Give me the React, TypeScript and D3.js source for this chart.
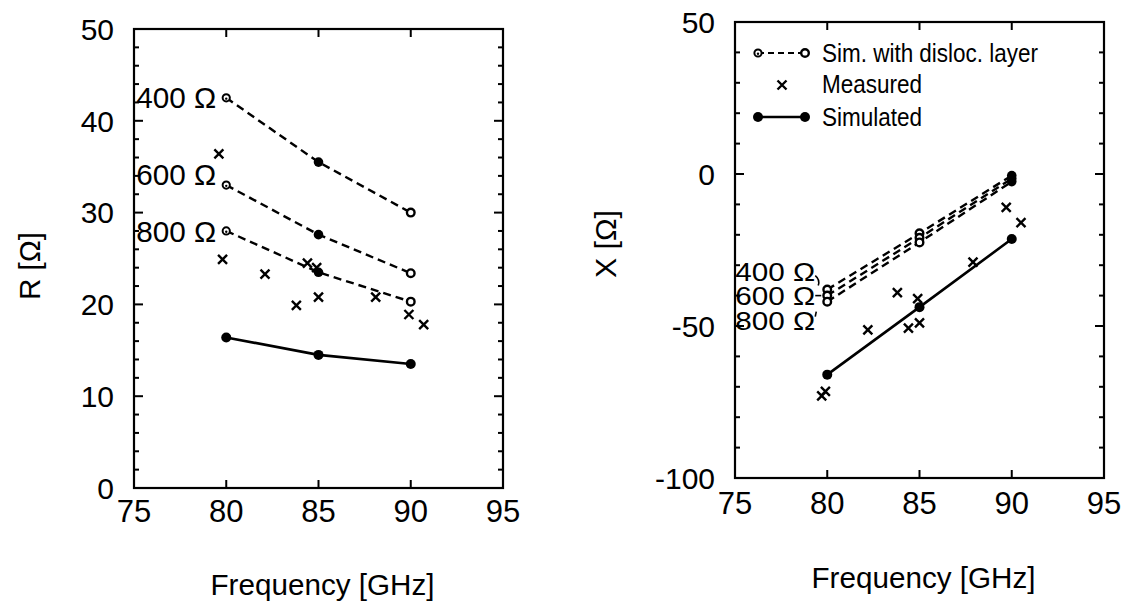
import React from 'react';
import * as d3 from 'd3';

// ---------- data ----------
const freqDomain = [75, 95];
const freqTicks = [75, 80, 85, 90, 95];
const freqSim = [80, 85, 90];
const simLabels = ['400 Ω', '600 Ω', '800 Ω'];

// Resistance (left panel)
const rDomain = [0, 50];
const rTicks = [0, 10, 20, 30, 40, 50];
const rSim400 = [42.5, 35.5, 30.0];
const rSim600 = [33.0, 27.6, 23.4];
const rSim800 = [28.0, 23.5, 20.3];
const rSimulated = [16.4, 14.5, 13.5];
const rMeasFreq = [79.6, 79.8, 82.1, 83.8, 84.4, 84.9, 85.0, 88.1, 89.9, 90.7];
const rMeasVal = [36.4, 24.9, 23.3, 19.9, 24.5, 24.0, 20.8, 20.8, 18.9, 17.8];

// Reactance (right panel)
const xDomain = [-100, 50];
const xTicks = [-100, -50, 0, 50];
const xSim400 = [-38, -19.5, -0.5];
const xSim600 = [-40, -21, -1.5];
const xSim800 = [-42, -22.5, -2.5];
const xSimulated = [-66, -43.8, -21.4];
const xMeasFreq = [79.7, 79.9, 82.2, 83.8, 84.4, 84.9, 85.0, 87.9, 89.7, 90.5];
const xMeasVal = [-73, -71.5, -51.3, -39, -50.7, -41, -49, -29, -11, -16];

const legendLabels = ['Sim. with disloc. layer', 'Measured', 'Simulated'];

const FONT = '"Liberation Sans", Arial, Helvetica, sans-serif';

type PanelProps = {
  left: number; right: number; top: number; bottom: number;
  yDomain: number[]; yTicks: number[]; yMinorStep: number;
  sims: number[][]; simulated: number[];
  measF: number[]; measV: number[];
  labelDx: number; labelDy: number[]; labelSize: number;
  markerStyles: string[];
  yTitle: string; yTitleX: number; yTitleY: number;
  xTitleY: number; xTickDy: number;
  leaders?: boolean;
  legend?: boolean;
};

function Cross({ x, y }: { x: number; y: number }) {
  const s = 4.5;
  return (
    <path d={`M${x - s},${y - s}L${x + s},${y + s}M${x - s},${y + s}L${x + s},${y - s}`}
      stroke="#000" strokeWidth={2.4} fill="none" />
  );
}

function SimMarker({ x, y, kind }: { x: number; y: number; kind: string }) {
  if (kind === 'filled') return <circle cx={x} cy={y} r={4.8} fill="#000" />;
  if (kind === 'dot') return (
    <g>
      <circle cx={x} cy={y} r={3.6} fill="#fff" stroke="#000" strokeWidth={2} />
      <circle cx={x} cy={y + 0.8} r={1.2} fill="#000" />
    </g>
  );
  return <circle cx={x} cy={y} r={3.8} fill="#fff" stroke="#000" strokeWidth={2.4} />;
}

function Panel(p: PanelProps) {
  const xs = d3.scaleLinear().domain(freqDomain).range([p.left, p.right]);
  const ys = d3.scaleLinear().domain(p.yDomain).range([p.bottom, p.top]);
  const line = d3.line<[number, number]>().x(d => xs(d[0])).y(d => ys(d[1]));
  const minor = d3.range(p.yDomain[0], p.yDomain[1] + 1e-9, p.yMinorStep);
  const innerX = freqTicks.slice(1, -1);

  return (
    <g fontFamily={FONT}>
      {/* frame */}
      <rect x={p.left} y={p.top} width={p.right - p.left} height={p.bottom - p.top}
        fill="none" stroke="#000" strokeWidth={2.2} />
      {/* y minor/major ticks both sides */}
      {minor.map(v => {
        const major = p.yTicks.includes(v);
        const L = major ? 9 : 5;
        return (
          <g key={'yt' + v}>
            <line x1={p.left} x2={p.left + L} y1={ys(v)} y2={ys(v)} stroke="#000" strokeWidth={2} />
            <line x1={p.right} x2={p.right - L} y1={ys(v)} y2={ys(v)} stroke="#000" strokeWidth={2} />
          </g>
        );
      })}
      {innerX.map(v => (
        <g key={'xt' + v}>
          <line x1={xs(v)} x2={xs(v)} y1={p.bottom} y2={p.bottom - 8} stroke="#000" strokeWidth={2} />
          <line x1={xs(v)} x2={xs(v)} y1={p.top} y2={p.top + 8} stroke="#000" strokeWidth={2} />
        </g>
      ))}
      {/* tick labels */}
      {p.yTicks.map(v => (
        <text key={'yl' + v} x={p.left - 20} y={ys(v)} dy="0.36em" textAnchor="end" fontSize={30}>{v}</text>
      ))}
      {freqTicks.map(v => (
        <text key={'xl' + v} x={xs(v)} y={p.bottom + p.xTickDy} textAnchor="middle" fontSize={31}>{v}</text>
      ))}
      {/* titles */}
      <text x={(p.left + p.right) / 2 + 4} y={p.xTitleY} textAnchor="middle" fontSize={29}
        textLength={224} lengthAdjust="spacingAndGlyphs">Frequency [GHz]</text>
      <text transform={`translate(${p.yTitleX},${p.yTitleY}) rotate(-90)`} textAnchor="middle" fontSize={29}
        textLength={68} lengthAdjust="spacingAndGlyphs">{p.yTitle}</text>

      {/* sim with disloc layer: dashed */}
      {p.sims.map((vals, i) => (
        <path key={'sd' + i} d={line(freqSim.map((f, j) => [f, vals[j]] as [number, number])) || ''}
          fill="none" stroke="#000" strokeWidth={2.4} strokeDasharray="8,5" />
      ))}
      {p.sims.map((vals, i) => vals.map((v, j) => (
        <SimMarker key={'sm' + i + '-' + j} x={xs(freqSim[j])} y={ys(v)} kind={p.markerStyles[j]} />
      )))}
      {p.sims.map((vals, i) => (
        <text key={'lab' + i} x={xs(freqSim[0]) + p.labelDx} y={ys(vals[0]) + p.labelDy[i]}
          textAnchor="end" fontSize={p.labelSize} textLength={80} lengthAdjust="spacingAndGlyphs">{simLabels[i]}</text>
      ))}
      {p.leaders && (() => {
        const x0 = xs(freqSim[0]);
        return (
          <g stroke="#000" strokeWidth={1.6} fill="none">
            <path d={`M${x0 - 12},${ys(p.sims[0][0]) - 14} q5,4 3,10`} />
            <path d={`M${x0 - 12},${ys(p.sims[1][0])} l6,0`} />
            <path d={`M${x0 - 11},${ys(p.sims[2][0]) + 10} l-1,5`} />
          </g>
        );
      })()}

      {/* simulated: solid */}
      <path d={line(freqSim.map((f, j) => [f, p.simulated[j]] as [number, number])) || ''}
        fill="none" stroke="#000" strokeWidth={2.6} />
      {p.simulated.map((v, j) => (
        <circle key={'ss' + j} cx={xs(freqSim[j])} cy={ys(v)} r={5} fill="#000" />
      ))}

      {/* measured */}
      {p.measF.map((f, i) => (
        <Cross key={'mx' + i} x={xs(f)} y={ys(p.measV[i])} />
      ))}

      {p.legend && (
        <g>
          <line x1={758} x2={805} y1={53} y2={53} stroke="#000" strokeWidth={2} strokeDasharray="6,4" />
          <SimMarker x={758} y={53} kind="dot" />
          <SimMarker x={805} y={53} kind="open" />
          <text x={822} y={62} fontSize={26} textLength={216} lengthAdjust="spacingAndGlyphs">{legendLabels[0]}</text>
          <Cross x={782} y={85} />
          <text x={822} y={93} fontSize={26} textLength={100} lengthAdjust="spacingAndGlyphs">{legendLabels[1]}</text>
          <line x1={758} x2={805} y1={117} y2={117} stroke="#000" strokeWidth={2.4} />
          <circle cx={758} cy={117} r={5} fill="#000" />
          <circle cx={805} cy={117} r={5} fill="#000" />
          <text x={822} y={126} fontSize={26} textLength={100} lengthAdjust="spacingAndGlyphs">{legendLabels[2]}</text>
        </g>
      )}
    </g>
  );
}

export default function App() {
  return (
    <svg width={1125} height={609} style={{ position: 'absolute', left: 0, top: 0, background: '#fff' }}>
      <rect width={1125} height={609} fill="#fff" />
      <Panel left={134} right={503} top={29} bottom={488}
        yDomain={rDomain} yTicks={rTicks} yMinorStep={2}
        sims={[rSim400, rSim600, rSim800]} simulated={rSimulated}
        measF={rMeasFreq} measV={rMeasVal}
        labelDx={-10} labelDy={[10, 0, 11]} labelSize={30}
        markerStyles={['dot', 'filled', 'open']}
        yTitle="R [Ω]" yTitleX={40} yTitleY={266}
        xTitleY={595} xTickDy={34} />
      <Panel left={735} right={1104} top={22} bottom={478}
        yDomain={xDomain} yTicks={xTicks} yMinorStep={10}
        sims={[xSim400, xSim600, xSim800]} simulated={xSimulated}
        measF={xMeasFreq} measV={xMeasVal}
        labelDx={-12} labelDy={[-9, 9, 28]} labelSize={25}
        markerStyles={['open', 'open', 'filled']}
        yTitle="X [Ω]" yTitleX={616} yTitleY={244}
        xTitleY={588} xTickDy={36} leaders legend />
    </svg>
  );
}
